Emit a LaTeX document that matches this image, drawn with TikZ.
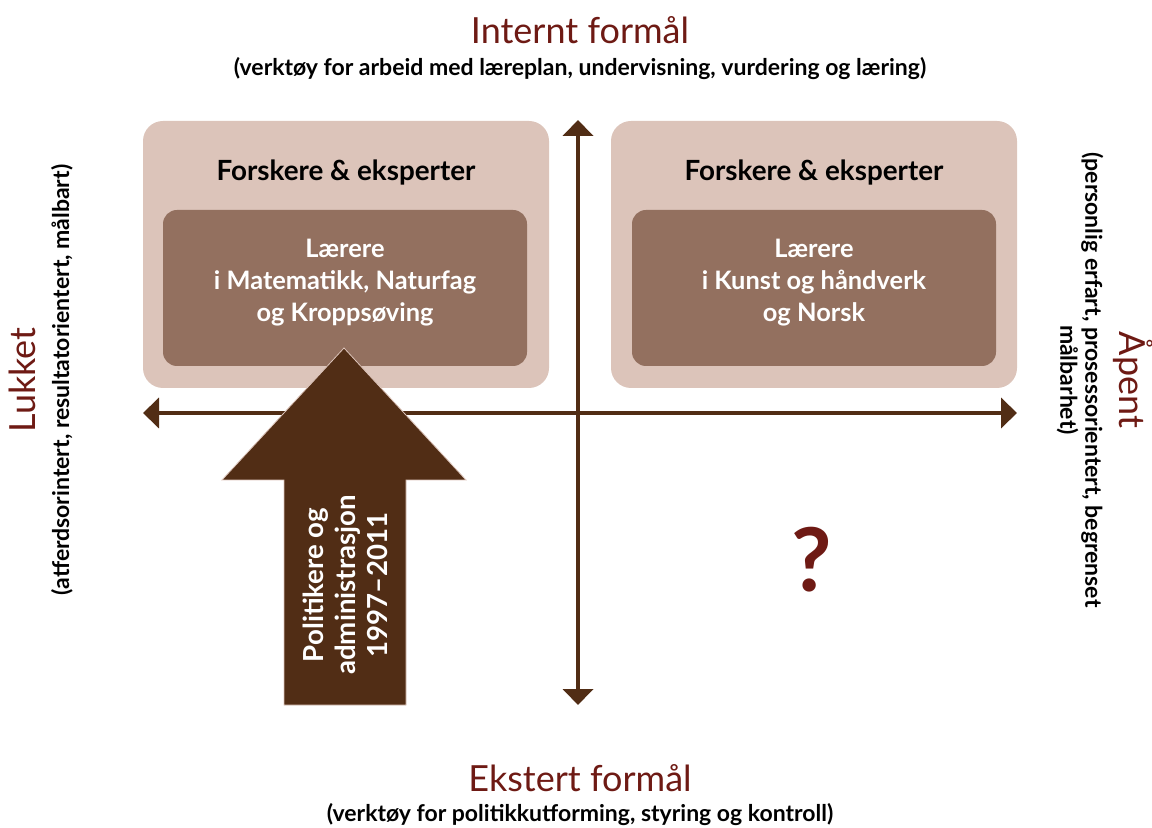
\documentclass[tikz,border=0pt]{standalone}
\usepackage{fontspec}
\setmainfont{Lato}
\usetikzlibrary{arrows.meta,positioning}

\definecolor{boxlight}{HTML}{DCC4BA}
\definecolor{boxdark}{HTML}{93705F}
\definecolor{axisbrown}{HTML}{512D15}
\definecolor{titlered}{HTML}{6E1A14}

\begin{document}
\begin{tikzpicture}[
  x=0.5pt, y=-0.5pt,
  outerbox/.style={fill=boxlight, rounded corners=10pt, minimum width=203pt, minimum height=133.5pt, inner sep=0pt},
  innerbox/.style={fill=boxdark, rounded corners=7pt, minimum width=182pt, minimum height=78pt, text depth=7.7pt, align=center, text=white, font=\bfseries\fontsize{12.7}{16.2}\selectfont},
  heading/.style={font=\bfseries\fontsize{13.9}{15}\selectfont},
  axistitle/.style={text=titlered, font=\fontsize{18}{20}\selectfont},
  axisnote/.style={font=\bfseries\fontsize{11.5}{12.5}\selectfont, align=center},
  axisline/.style={{Triangle[width=15pt,length=8pt]}-{Triangle[width=15pt,length=8pt]}, line width=2pt, draw=axisbrown}
]
\useasboundingbox (0,0) rectangle (1152,828);

% quadrant boxes
\node[outerbox] (closedbox) at (346,254.5) {};
\node[outerbox] (openbox) at (814,254.5) {};
\node[heading] (closedhead) at (346,173) {Forskere \& eksperter};
\node[heading] (openhead) at (814,173) {Forskere \& eksperter};
\node[innerbox] (closedteach) at (345,288) {Lærere\\i Matematikk, Naturfag\\og Kroppsøving};
\node[innerbox] (openteach) at (814,288) {Lærere\\i Kunst og håndverk\\og Norsk};

% axes
\coordinate (top) at (578,120);
\coordinate (bottom) at (578,705);
\coordinate (left) at (143,413);
\coordinate (right) at (1017,413);
\draw[axisline] (bottom) -- (top);
\draw[axisline] (left) -- (right);

% policy arrow
\fill[axisbrown, draw=boxlight, line width=0.4pt] (284,705) -- (284,480) -- (222,480) -- (344,348) -- (466,480) -- (406,480) -- (406,705) -- cycle;
\node[rotate=90, align=center, text=white, font=\bfseries\fontsize{13.8}{16}\selectfont] (policy) at (345,585) {Politikere og\\administrasjon\\1997–2011};

\node[text=titlered, font=\bfseries\fontsize{44}{44}\selectfont] (unknown) at (812,560) {?};

% axis labels
\node[axistitle] (internal) at (580,30) {Internt formål};
\node[axisnote] (internalnote) at (580,69) {(verktøy for arbeid med læreplan, undervisning, vurdering og læring)};
\node[axistitle] (external) at (580,778) {Ekstert formål};
\node[axisnote] (externalnote) at (580,815) {(verktøy for politikkutforming, styring og kontroll)};
\node[axistitle, rotate=90] (closed) at (22,380) {Lukket};
\node[axisnote, rotate=90] (closednote) at (62,380) {(atferdsorintert, resultatorientert, målbart)};
\node[axistitle, rotate=-90] (open) at (1133,380) {Åpent};
\node[axisnote, rotate=-90] (opennote) at (1080,380) {(personlig erfart, prosessorientert, begrenset\\målbarhet)};
\end{tikzpicture}
\end{document}
